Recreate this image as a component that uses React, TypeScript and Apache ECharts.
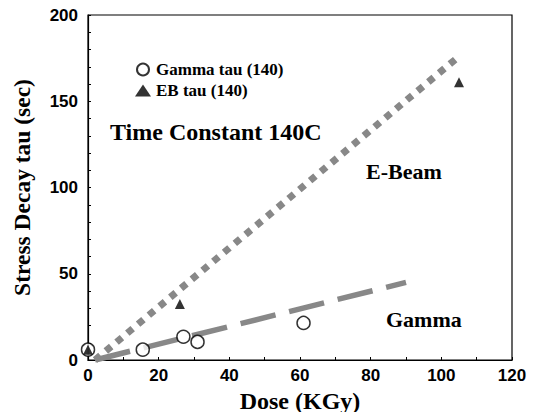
import React, { useEffect, useRef } from "react";
import * as echarts from "echarts";

const gammaPoints: [number, number][] = [
  [0, 6],
  [15.5, 6],
  [27, 13.5],
  [31, 10.5],
  [61, 21.5],
];
const ebPoints: [number, number][] = [
  [0, 6],
  [26, 32.5],
  [105, 161],
];
const ebFitLine: [number, number][] = [
  [2, 0],
  [105, 176],
];
const gammaFitLine: [number, number][] = [
  [2, 0],
  [90, 45],
];
const xTicks = [0, 20, 40, 60, 80, 100, 120];
const yTicks = [0, 50, 100, 150, 200];

const serif = "'Liberation Serif', 'Times New Roman', serif";
const sans = "'Liberation Sans', Arial, sans-serif";

export default function App() {
  const ref = useRef<HTMLDivElement>(null);
  useEffect(() => {
    if (!ref.current) return;
    const chart = echarts.init(ref.current, undefined, { renderer: "svg" });
    chart.setOption({
      animation: false,
      backgroundColor: "#ffffff",
      grid: {
        left: 88,
        right: 33,
        top: 15,
        bottom: 60,
        show: true,
        borderColor: "#000",
        borderWidth: 1.2,
        backgroundColor: "transparent",
      },
      legend: {
        orient: "vertical",
        left: 130,
        top: 56,
        itemGap: 4,
        itemWidth: 16,
        itemHeight: 12,
        data: ["Gamma tau (140)", "EB tau (140)"],
        textStyle: { fontFamily: serif, fontWeight: "bold", fontSize: 17, color: "#000" },
      },
      xAxis: {
        type: "value",
        min: xTicks[0],
        max: xTicks[xTicks.length - 1],
        interval: 20,
        name: "Dose (KGy)",
        nameLocation: "middle",
        nameGap: 28,
        nameTextStyle: { fontFamily: serif, fontWeight: "bold", fontSize: 24, color: "#000" },
        axisLine: { show: true, lineStyle: { color: "#000", width: 1.2 } },
        axisTick: { show: true, inside: true, length: 3, lineStyle: { color: "#000" } },
        minorTick: { show: true, splitNumber: 2, length: 3, lineStyle: { color: "#000" } },
        splitLine: { show: false },
        axisLabel: { fontFamily: sans, fontWeight: "bold", fontSize: 17, color: "#000", margin: 7 },
      },
      yAxis: {
        type: "value",
        min: yTicks[0],
        max: yTicks[yTicks.length - 1],
        interval: 50,
        name: "Stress Decay tau (sec)",
        nameLocation: "middle",
        nameGap: 54,
        nameRotate: 90,
        nameTextStyle: { fontFamily: serif, fontWeight: "bold", fontSize: 23.5, color: "#000" },
        axisLine: { show: true, lineStyle: { color: "#000", width: 1.2 } },
        axisTick: { show: true, inside: true, length: 3, lineStyle: { color: "#000" } },
        minorTick: { show: true, splitNumber: 5, length: 3, lineStyle: { color: "#000" } },
        splitLine: { show: false },
        axisLabel: { fontFamily: sans, fontWeight: "bold", fontSize: 17, color: "#000", margin: 10 },
      },
      series: [
        {
          name: "E-Beam fit",
          type: "line",
          data: ebFitLine,
          symbol: "none",
          lineStyle: { color: "#888888", width: 7, type: [7, 7] },
          z: 1,
        },
        {
          name: "Gamma fit",
          type: "line",
          data: gammaFitLine,
          symbol: "none",
          lineStyle: { color: "#888888", width: 5.5, type: [36, 14] },
          z: 1,
        },
        {
          name: "Gamma tau (140)",
          type: "scatter",
          data: gammaPoints,
          symbol: "circle",
          symbolSize: 13,
          itemStyle: { color: "#fff", borderColor: "#000", borderWidth: 1.5 },
          z: 3,
        },
        {
          name: "EB tau (140)",
          type: "scatter",
          data: ebPoints,
          symbol: "triangle",
          symbolSize: 10,
          itemStyle: { color: "#000" },
          z: 4,
        },
      ],
      graphic: [
        {
          type: "text",
          left: 110,
          top: 120,
          style: { text: "Time Constant 140C", font: `bold 24px ${serif}`, fill: "#000" },
        },
        {
          type: "text",
          left: 366,
          top: 160,
          style: { text: "E-Beam", font: `bold 22px ${serif}`, fill: "#000" },
        },
        {
          type: "text",
          left: 386,
          top: 308,
          style: { text: "Gamma", font: `bold 22px ${serif}`, fill: "#000" },
        },
      ],
    });
    return () => chart.dispose();
  }, []);
  return <div ref={ref} style={{ width: 545, height: 420, margin: -8 }} />;
}
